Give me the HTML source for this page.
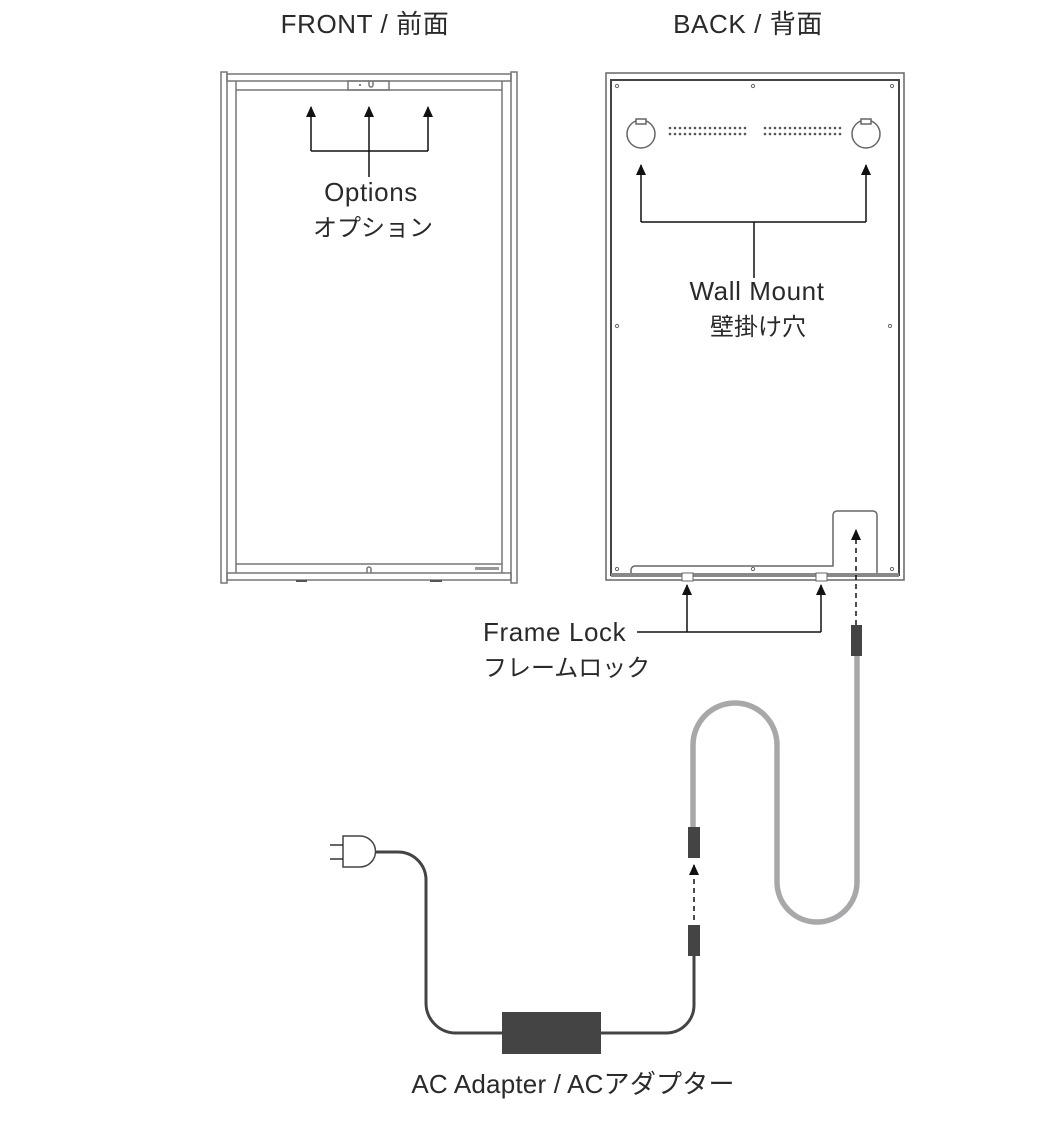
<!DOCTYPE html>
<html><head><meta charset="utf-8"><style>
html,body{margin:0;padding:0;background:#fff;}
svg{display:block;}
text{font-family:"Liberation Sans","Noto Sans CJK JP",sans-serif;fill:#2a2a2a;font-size:26px;letter-spacing:0.6px;}
text.j{font-size:24px;letter-spacing:0;}
</style></head><body>
<svg width="1060" height="1132" viewBox="0 0 1060 1132" xmlns="http://www.w3.org/2000/svg">
<defs>
<marker id="ah" markerWidth="11" markerHeight="10" refX="10" refY="5" orient="auto" markerUnits="userSpaceOnUse" viewBox="0 0 11 10">
<path d="M0,0 L11,5 L0,10 Z" fill="#111"/></marker>
</defs>
<text x="365" y="33" text-anchor="middle">FRONT / 前面</text>
<text x="748" y="33" text-anchor="middle">BACK / 背面</text>

<g fill="none" stroke="#777" stroke-width="1.5">
<rect x="221" y="72" width="6" height="511" fill="#fff"/>
<rect x="511" y="72" width="6" height="511" fill="#fff"/>
<rect x="227" y="74" width="284" height="7"/>
<line x1="236" y1="81" x2="236" y2="573"/>
<line x1="502" y1="81" x2="502" y2="573"/>
<line x1="236" y1="90" x2="502" y2="90"/>
<rect x="348" y="81" width="41" height="9"/>
<line x1="236" y1="564" x2="502" y2="564"/>
<rect x="227" y="573" width="284" height="7"/>
<path d="M367 573 V569 a2 2 0 0 1 4 0 V573"/>
<path d="M369 81 V85 a2 2 0 0 0 4 0 V81"/>
</g>
<circle cx="360" cy="85" r="1" fill="#555"/>
<rect x="296" y="580" width="11" height="2" fill="#555"/>
<rect x="430" y="580" width="12" height="2" fill="#555"/>
<rect x="475" y="567" width="24" height="3" fill="#999"/>

<g stroke="#111" stroke-width="1.5" fill="none">
<line x1="311" y1="151" x2="311" y2="107" marker-end="url(#ah)"/>
<line x1="369" y1="177" x2="369" y2="107" marker-end="url(#ah)"/>
<line x1="428" y1="151" x2="428" y2="107" marker-end="url(#ah)"/>
<line x1="311" y1="151" x2="428" y2="151"/>
</g>
<text x="371" y="201" text-anchor="middle">Options</text>
<text class="j" x="373" y="236" text-anchor="middle">オプション</text>

<g fill="none" stroke="#666" stroke-width="1.5">
<rect x="606" y="73" width="298" height="507" fill="#fff"/>
<rect x="611" y="80" width="288" height="495" stroke="#444" stroke-width="2"/>
<circle cx="641" cy="134" r="14"/>
<circle cx="866" cy="134" r="14"/>
<rect x="636" y="119" width="10" height="5" fill="#fff"/>
<rect x="861" y="119" width="10" height="5" fill="#fff"/>
<path d="M631 575 V570 a4 4 0 0 1 4 -4 H833 V515 a4 4 0 0 1 4 -4 H873 a4 4 0 0 1 4 4 V575"/>
</g>
<rect x="611" y="573" width="288" height="4" fill="#888"/>
<rect x="682" y="573" width="11" height="8" fill="#fff" stroke="#666"/>
<rect x="816" y="573" width="11" height="8" fill="#fff" stroke="#666"/>
<g fill="none" stroke="#666" stroke-width="1">
<circle cx="617" cy="86" r="1.6"/><circle cx="753" cy="86" r="1.6"/><circle cx="892" cy="86" r="1.6"/>
<circle cx="617" cy="326" r="1.6"/><circle cx="890" cy="326" r="1.6"/>
<circle cx="617" cy="569" r="1.6"/><circle cx="753" cy="569" r="1.6"/><circle cx="892" cy="569" r="1.6"/>
</g>
<g fill="#555">
<g id="dots"><circle cx="670" cy="128" r="1.3"/><circle cx="675" cy="128" r="1.3"/><circle cx="680" cy="128" r="1.3"/><circle cx="685" cy="128" r="1.3"/><circle cx="690" cy="128" r="1.3"/><circle cx="695" cy="128" r="1.3"/><circle cx="700" cy="128" r="1.3"/><circle cx="705" cy="128" r="1.3"/><circle cx="710" cy="128" r="1.3"/><circle cx="715" cy="128" r="1.3"/><circle cx="720" cy="128" r="1.3"/><circle cx="725" cy="128" r="1.3"/><circle cx="730" cy="128" r="1.3"/><circle cx="735" cy="128" r="1.3"/><circle cx="740" cy="128" r="1.3"/><circle cx="745" cy="128" r="1.3"/></g>
<use href="#dots" y="6"/><use href="#dots" x="95"/><use href="#dots" x="95" y="6"/>
</g>

<g stroke="#111" stroke-width="1.5" fill="none">
<line x1="641" y1="222" x2="641" y2="165" marker-end="url(#ah)"/>
<line x1="866" y1="222" x2="866" y2="165" marker-end="url(#ah)"/>
<line x1="641" y1="222" x2="866" y2="222"/>
<line x1="754" y1="222" x2="754" y2="278"/>
</g>
<text x="757" y="300" text-anchor="middle">Wall Mount</text>
<text class="j" x="758" y="335" text-anchor="middle">壁掛け穴</text>

<g stroke="#111" stroke-width="1.5" fill="none">
<line x1="687" y1="632" x2="687" y2="585" marker-end="url(#ah)"/>
<line x1="821" y1="632" x2="821" y2="585" marker-end="url(#ah)"/>
<line x1="637" y1="632" x2="821" y2="632"/>
<line x1="856" y1="625" x2="856" y2="530" stroke-dasharray="5,4" marker-end="url(#ah)"/>
<line x1="694" y1="920" x2="694" y2="865" stroke-dasharray="5,4" marker-end="url(#ah)"/>
</g>
<text x="483" y="641">Frame Lock</text>
<text class="j" x="483" y="676">フレームロック</text>

<path d="M857 655 V882 A40 40 0 0 1 777 882 V745 A42 42 0 0 0 693 745 V828" fill="none" stroke="#a8a8ab" stroke-width="5.5"/>
<rect x="851" y="625" width="11" height="31" fill="#444"/>
<rect x="688" y="827" width="12" height="31" fill="#444"/>
<rect x="688" y="925" width="12" height="31" fill="#444"/>

<path d="M694 955 V1005 A28 28 0 0 1 666 1033 H455 A30 30 0 0 1 426 1003 V880 A28 28 0 0 0 398 852 H375" fill="none" stroke="#444" stroke-width="3"/>
<rect x="502" y="1012" width="99" height="42" fill="#444"/>
<path d="M343 836 H360 A15.5 15.5 0 0 1 360 867 H343 Z" fill="#fff" stroke="#444" stroke-width="1.5"/>
<line x1="330" y1="845" x2="343" y2="845" stroke="#333" stroke-width="1.5"/>
<line x1="330" y1="859" x2="343" y2="859" stroke="#333" stroke-width="1.5"/>
<text x="573" y="1093" text-anchor="middle" style="letter-spacing:0.2px">AC Adapter / ACアダプター</text>
</svg>
</body></html>
